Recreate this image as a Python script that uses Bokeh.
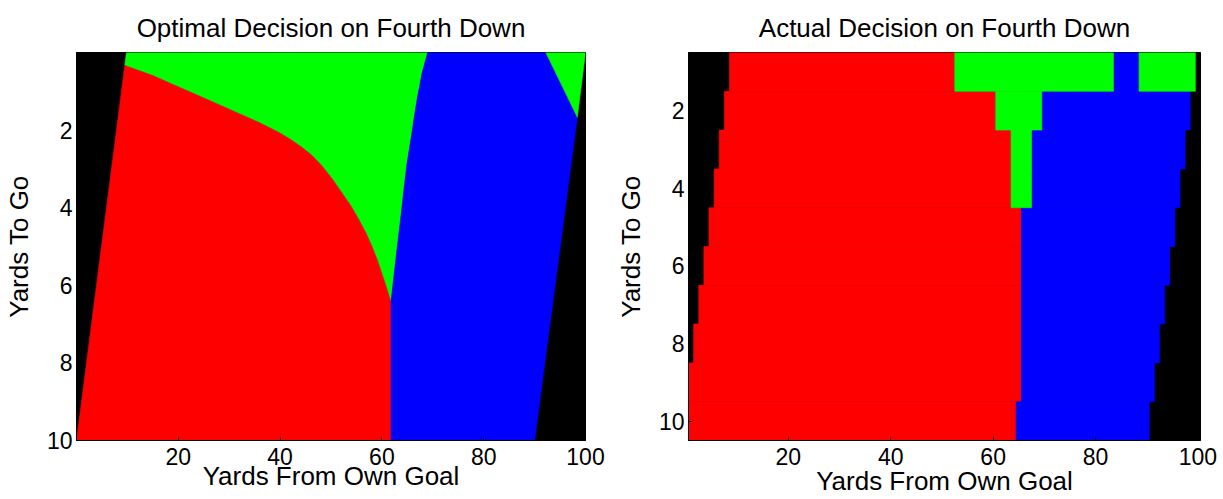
from bokeh.plotting import figure
from bokeh.layouts import row
from bokeh.models import Range1d, FixedTicker
from bokeh.embed import file_html
from bokeh.resources import INLINE

# ---------------- data ----------------
# Optimal decision (left panel): region boundaries in (yards from own goal, yards to go)
opt_punt_go_x = [9.5, 15.0, 20.2, 25.4, 30.7, 35.9, 39.8, 42.0, 44.2, 46.3, 48.3, 50.3, 52.2, 54.0, 55.5, 56.9, 58.1, 59.1, 60.0, 60.9, 61.7, 61.8]
opt_punt_go_y = [0.32, 0.58, 0.88, 1.18, 1.49, 1.79, 2.05, 2.22, 2.42, 2.64, 2.92, 3.25, 3.61, 3.95, 4.29, 4.63, 4.98, 5.31, 5.66, 6.01, 6.35, 6.4]
opt_go_fg_x = [69.0, 67.9, 66.9, 66.4, 65.9, 65.4, 64.9, 64.4, 63.9, 62.9, 61.9, 61.8]
opt_go_fg_y = [0.0, 0.53, 1.22, 1.63, 2.07, 2.48, 2.9, 3.45, 4.04, 5.15, 6.3, 6.4]
opt_punt_fg_x = 61.8
opt_left_edge_x = [0.0, 9.8]      # at yards to go 10 and 0
opt_fg_right_x = [92.2, 98.4, 90.0]
opt_fg_right_y = [0.0, 1.67, 10.0]
opt_go2_x = [92.2, 100.0, 98.4]
opt_go2_y = [0.0, 0.0, 1.67]

# Actual decision (right panel): runs of yard lines per yards-to-go row
yards_to_go = [1, 2, 3, 4, 5, 6, 7, 8, 9, 10]
punt_first = [9, 8, 7, 6, 5, 4, 3, 2, 1, 1]
punt_last = [52, 60, 63, 63, 65, 65, 65, 65, 65, 64]
fg_first = [84, 70, 68, 68, 66, 66, 66, 66, 66, 65]
fg_last = [88, 98, 97, 96, 95, 94, 93, 92, 91, 90]
go_rows = [1, 1, 2, 3, 4]
go_first = [53, 89, 61, 64, 64]
go_last = [83, 99, 69, 67, 67]

x_ticks = [20, 40, 60, 80, 100]
y_ticks = [2, 4, 6, 8, 10]

titles = ["Optimal Decision on Fourth Down", "Actual Decision on Fourth Down"]
x_label = "Yards From Own Goal"
y_label = "Yards To Go"

RED, GREEN, BLUE = "#ff0000", "#00ff00", "#0000ff"
FONT = "Liberation Sans"


def make_fig(title, width, x0, x1, y0, y1, bl, br, bt, bb, t_standoff, x_als):
    p = figure(width=width, height=499, x_range=Range1d(x0, x1), y_range=Range1d(y1, y0),
               output_backend="svg", toolbar_location=None, tools="",
               min_border_left=bl, min_border_right=br,
               min_border_top=bt, min_border_bottom=bb)
    p.title.text = title
    p.title.align = "center"
    p.title.vertical_align = "top"
    p.title.text_font = FONT
    p.title.text_font_size = "26px"
    p.title.text_font_style = "normal"
    p.title.text_color = "black"
    p.title.standoff = t_standoff
    p.background_fill_color = "black"
    p.border_fill_color = "white"
    p.outline_line_color = "black"
    p.outline_line_width = 1
    p.grid.visible = False
    p.xaxis.ticker = FixedTicker(ticks=x_ticks)
    p.yaxis.ticker = FixedTicker(ticks=y_ticks)
    p.xaxis.axis_label = x_label
    p.yaxis.axis_label = y_label
    for ax in (p.xaxis[0], p.yaxis[0]):
        ax.axis_label_text_font = FONT
        ax.axis_label_text_font_size = "26px"
        ax.axis_label_text_font_style = "normal"
        ax.axis_label_text_color = "black"
        ax.major_label_text_font = FONT
        ax.major_label_text_font_size = "23px"
        ax.major_label_text_color = "black"
        ax.major_tick_in = 4
        ax.major_tick_out = 0
        ax.minor_tick_in = 0
        ax.minor_tick_out = 0
        ax.axis_line_color = "black"
        ax.major_tick_line_color = "black"
    p.xaxis.major_label_standoff = 7
    p.xaxis.axis_label_standoff = x_als
    p.yaxis.major_label_standoff = 4
    p.yaxis.axis_label_standoff = 10
    return p


# ---------------- left: optimal ----------------
p1 = make_fig(titles[0], 612, 0, 100, 0, 10, 73, 27, 52, 56, 16, -7)

red_x = [opt_left_edge_x[0]] + opt_punt_go_x + [opt_punt_fg_x]
red_y = [10.0] + opt_punt_go_y + [10.0]
green_x = [opt_left_edge_x[1]] + opt_go_fg_x + opt_punt_go_x[::-1]
green_y = [0.0] + opt_go_fg_y + opt_punt_go_y[::-1]
blue_x = [opt_go_fg_x[0]] + opt_fg_right_x + [opt_punt_fg_x] + opt_go_fg_x[::-1]
blue_y = [0.0] + opt_fg_right_y + [10.0] + opt_go_fg_y[::-1]

p1.patches(xs=[red_x, green_x, blue_x, opt_go2_x], ys=[red_y, green_y, blue_y, opt_go2_y],
           fill_color=[RED, GREEN, BLUE, GREEN], line_color=[RED, GREEN, BLUE, GREEN], line_width=0.6)

# ---------------- right: actual ----------------
p2 = make_fig(titles[1], 611, 0.5, 100.5, 0.5, 10.5, 75, 23, 51, 59, 16, -2)

top = [r - 0.5 for r in yards_to_go]
bot = [r + 0.5 for r in yards_to_go]
p2.quad(left=[a - 0.5 for a in punt_first], right=[b + 0.5 for b in punt_last], top=top, bottom=bot,
        fill_color=RED, line_color=RED, line_width=0.6)
p2.quad(left=[a - 0.5 for a in fg_first], right=[b + 0.5 for b in fg_last], top=top, bottom=bot,
        fill_color=BLUE, line_color=BLUE, line_width=0.6)
p2.quad(left=[a - 0.5 for a in go_first], right=[b + 0.5 for b in go_last],
        top=[r - 0.5 for r in go_rows], bottom=[r + 0.5 for r in go_rows],
        fill_color=GREEN, line_color=GREEN, line_width=0.6)

layout = row(p1, p2)
open("out.html", "w").write(file_html(layout, INLINE))
